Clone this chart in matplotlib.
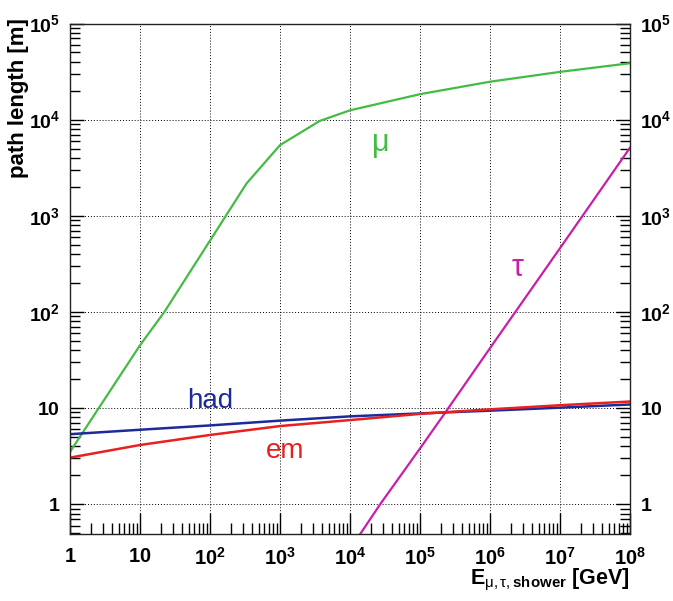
import matplotlib
matplotlib.use("Agg")
import matplotlib.pyplot as plt
from matplotlib.ticker import FixedLocator, FuncFormatter, LogLocator, NullFormatter
import numpy as np

plt.rcParams['font.family'] = ['Liberation Sans', 'DejaVu Sans']
plt.rcParams['mathtext.fontset'] = 'custom'
plt.rcParams['mathtext.rm'] = 'Liberation Sans'
plt.rcParams['mathtext.it'] = 'Liberation Sans:italic'
plt.rcParams['mathtext.bf'] = 'Liberation Sans:bold'

# Data (energies in GeV, path lengths in m)
mu_E = [1, 10, 22.3, 333, 1000, 3700, 1e4, 1e5, 1e6, 1e7, 1e8]
mu_L = [3.5, 45, 100, 2170, 5430, 9700, 12500, 18400, 24800, 31400, 38600]

tau_E = [1.4e4, 2.7e4, 1e5, 2.3e5, 1e6, 1e7, 1e8]
tau_L = [0.49, 1.0, 3.8, 9.0, 42, 460, 5100]

had_E = [1, 10, 100, 1e3, 1e4, 1e5, 1e6, 1e7, 1e8]
had_L = [5.35, 5.95, 6.6, 7.4, 8.2, 8.8, 9.4, 10.1, 10.9]

em_E = [1, 10, 100, 1e3, 1e4, 1e5, 1e6, 1e7, 1e8]
em_L = [3.05, 4.13, 5.25, 6.5, 7.5, 8.7, 9.7, 10.7, 11.7]

x_ticks = [1, 10, 1e2, 1e3, 1e4, 1e5, 1e6, 1e7, 1e8]
y_ticks = [1, 10, 1e2, 1e3, 1e4, 1e5]

C_MU = '#44bb44'
C_TAU = '#c81eaa'
C_HAD = '#1c2a9a'
C_EM = '#e8201e'

fig = plt.figure(figsize=(6.73, 6.01), dpi=100)
ax = fig.add_axes([70/673, 1-534/601, 560/673, (534-23.5)/601])

ax.plot(mu_E, mu_L, color=C_MU, lw=1.6)
ax.plot(tau_E, tau_L, color=C_TAU, lw=1.6)
ax.plot(had_E, had_L, color=C_HAD, lw=1.8)
ax.plot(em_E, em_L, color=C_EM, lw=1.8)

ax.set_xscale('log')
ax.set_yscale('log')
ax.set_xlim(1, 1e8)
ax.set_ylim(0.49, 1e5)

def fmt(v, pos=None):
    e = int(round(np.log10(v)))
    if e == 0:
        return r'$\mathbf{1}$'
    if e == 1:
        return r'$\mathbf{10}$'
    return r'$\mathbf{10^{%d}}$' % e

ax.xaxis.set_major_locator(FixedLocator(x_ticks))
ax.yaxis.set_major_locator(FixedLocator(y_ticks))
ax.xaxis.set_minor_locator(LogLocator(base=10, subs=np.arange(2, 10), numticks=20))
ax.yaxis.set_minor_locator(LogLocator(base=10, subs=np.arange(2, 10), numticks=20))
ax.xaxis.set_major_formatter(FuncFormatter(fmt))
ax.yaxis.set_major_formatter(FuncFormatter(fmt))
ax.xaxis.set_minor_formatter(NullFormatter())
ax.yaxis.set_minor_formatter(NullFormatter())

ax.tick_params(axis='x', which='major', direction='in', length=15, width=1, labelsize=14.5, pad=9, top=False)
ax.tick_params(axis='x', which='minor', direction='in', length=8, width=1, top=False)
ax.tick_params(axis='y', which='major', direction='in', length=10, width=1, labelsize=14, pad=7,
               left=True, right=True, labelleft=True, labelright=True)
ax.tick_params(axis='y', which='minor', direction='in', length=7, width=1, left=True, right=True)

ax.grid(True, which='major', color='black', linestyle=(0, (1, 2)), linewidth=0.7)
for s in ax.spines.values():
    s.set_linewidth(1.0)
    s.set_color('#222222')

ax.text(380/673, 1-145/601, r'$\mathrm{\mu}$', transform=fig.transFigure, color=C_MU, fontsize=22, ha='center', va='center')
ax.text(518/673, 1-268/601, r'$\mathrm{\tau}$', transform=fig.transFigure, color=C_TAU, fontsize=22, ha='center', va='center')
ax.text(210/673, 1-401/601, 'had', transform=fig.transFigure, color=C_HAD, fontsize=20, ha='center', va='center')
ax.text(285/673, 1-451/601, 'em', transform=fig.transFigure, color=C_EM, fontsize=20, ha='center', va='center')

fig.text(19/673, 1-18/601, 'path length [m]', rotation=90, ha='center', va='top', fontsize=16, fontweight='bold')
fig.text(630/673, 1-580/601, r'$\mathbf{E}_{\mathrm{\mu,\tau,}\mathbf{shower}}$ [GeV]', ha='right', va='center',
         fontsize=15.5, fontweight='bold')

fig.savefig('out.png', dpi=100, facecolor='white')
